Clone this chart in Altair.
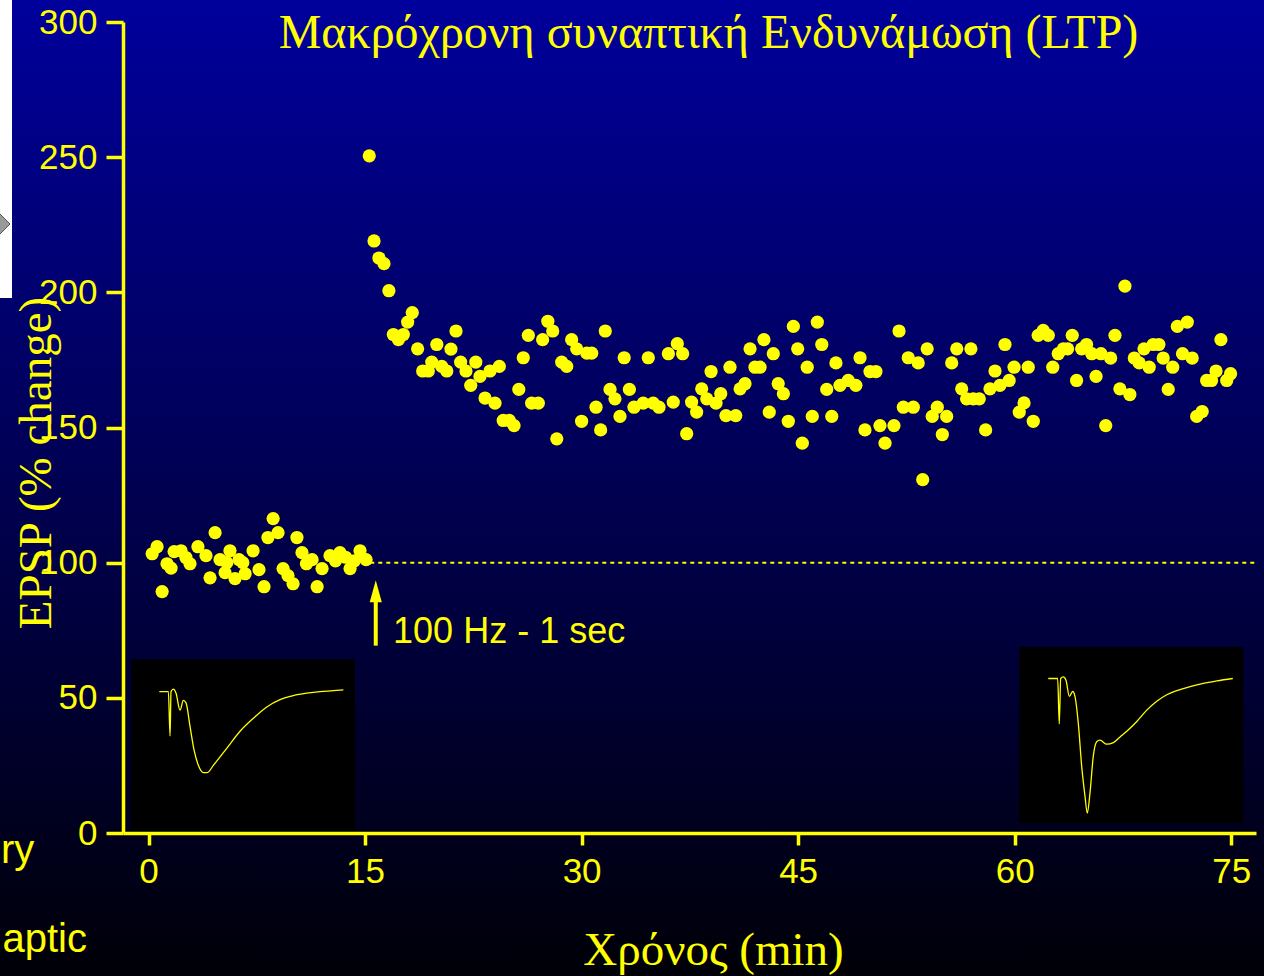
import altair as alt
import pandas as pd

# ---------------- data ----------------
# baseline period (minutes, EPSP % of baseline)
base_t = [0.25, 0.59, 0.94, 1.28, 1.56, 1.77, 2.25, 2.59, 2.87, 3.42,
          3.98, 4.26, 4.61, 4.95, 5.30, 5.42, 5.64, 5.99, 6.27, 6.53,
          6.69, 7.24, 7.65, 8.00, 8.27, 8.63, 8.97, 9.32, 9.66, 10.01,
          10.28, 10.63, 10.94, 11.33, 11.68, 12.02, 12.57, 12.95, 13.26, 13.65,
          13.96, 14.26, 14.65, 15.07]
base_v = [103.3, 105.9, 89.3, 99.6, 98.0, 104.1, 104.4, 101.9, 99.6, 105.9,
          102.6, 94.4, 111.1, 101.1, 96.3, 100.0, 104.4, 94.1, 101.1, 100.0,
          95.9, 104.4, 97.4, 91.1, 109.3, 116.3, 111.1, 97.8, 95.2, 92.2,
          109.3, 103.7, 99.6, 101.1, 91.1, 97.8, 102.6, 100.7, 103.7, 102.0,
          97.8, 100.7, 104.4, 101.1]

# after the tetanus
post_t = [15.29, 15.62, 15.96, 16.31, 16.65, 16.96, 17.31, 17.65, 17.95, 18.27,
          18.64, 18.99, 19.38, 19.62, 19.97, 20.31, 20.66, 20.95, 21.30, 21.62,
          21.99, 22.32, 22.67, 22.96, 23.31, 23.65, 24.00, 24.30, 24.57, 24.99,
          25.32, 25.65, 25.96, 26.31, 26.54, 27.00, 27.30, 27.66, 28.00, 28.28,
          28.62, 28.97, 29.31, 29.66, 30.00, 30.36, 30.70, 31.00, 31.32, 31.64,
          31.97, 32.31, 32.66, 32.95, 33.31, 33.63, 34.27, 34.62, 34.96, 35.36,
          36.01, 36.35, 36.63, 37.00, 37.28, 37.62, 37.97, 38.32, 38.67, 38.97,
          39.31, 39.64, 40.00, 40.28, 40.68, 40.98, 41.32, 41.67, 42.01, 42.36,
          42.63, 43.00, 43.28, 43.62, 43.98, 44.32, 44.67, 44.97, 45.29, 45.63,
          45.98, 46.33, 46.64, 46.98, 47.33, 47.62, 47.90, 48.47, 49.00, 49.29,
          49.63, 49.98, 50.39, 50.67, 51.02, 51.64, 51.99, 52.29, 52.63, 52.98,
          53.32, 53.63, 53.94, 54.29, 54.64, 54.99, 55.29, 55.64, 55.99, 56.33,
          56.67, 56.97, 57.13, 57.55, 57.99, 58.29, 58.64, 58.98, 59.33, 59.62,
          59.96, 60.32, 60.65, 60.94, 61.29, 61.63, 61.98, 62.33, 62.64, 63.02,
          63.37, 63.67, 63.99, 64.29, 64.64, 64.98, 65.34, 65.64, 65.98, 66.31,
          66.65, 66.95, 67.29, 67.64, 67.98, 68.29, 68.63, 68.96, 69.32, 69.60,
          69.99, 70.29, 70.64, 70.95, 71.27, 71.63, 71.96, 72.30, 72.61, 72.99,
          73.30, 73.64, 73.95, 74.29, 74.69, 74.96]
post_v = [250.5, 219.0, 212.7, 210.6, 200.6, 184.4, 182.5, 184.4, 189.0, 192.5,
          179.1, 170.9, 170.9, 174.2, 180.7, 172.6, 170.9, 179.0, 185.7, 174.2,
          170.9, 165.6, 174.2, 168.9, 160.9, 170.9, 159.0, 172.6, 152.6, 152.6,
          150.7, 164.1, 175.8, 184.1, 159.0, 159.0, 182.5, 189.3, 185.7, 145.8,
          174.2, 172.6, 182.5, 179.1, 152.3, 177.5, 177.5, 157.5, 149.1, 185.7,
          164.1, 160.6, 154.1, 175.8, 164.1, 157.5, 159.0, 175.8, 159.0, 157.5,
          177.3, 159.4, 181.0, 177.3, 147.7, 159.4, 155.7, 164.3, 160.6, 170.7,
          159.0, 162.5, 154.4, 172.3, 154.4, 164.3, 166.2, 179.1, 172.3, 172.3,
          182.5, 155.7, 177.3, 166.2, 162.5, 152.3, 187.4, 179.1, 144.2, 172.3,
          154.1, 189.0, 180.7, 164.1, 154.1, 173.9, 165.6, 167.4, 165.6, 175.8,
          149.1, 170.7, 170.7, 150.7, 144.2, 150.7, 185.7, 157.5, 175.8, 157.5,
          173.9, 130.7, 179.1, 154.1, 157.5, 147.4, 154.1, 173.9, 179.1, 164.3,
          160.6, 179.1, 160.6, 160.6, 149.1, 164.3, 170.9, 165.6, 180.7, 167.4,
          172.3, 155.7, 159.1, 172.3, 152.3, 184.1, 185.9, 184.1, 172.3, 177.3,
          179.1, 179.1, 184.1, 167.4, 179.1, 180.7, 177.3, 168.9, 177.3, 150.7,
          175.7, 184.1, 164.3, 202.3, 162.2, 175.7, 173.9, 179.1, 172.3, 180.7,
          180.7, 175.7, 164.1, 172.3, 187.4, 177.3, 189.0, 175.7, 154.1, 155.9,
          167.4, 167.4, 170.9, 182.5, 167.4, 169.9]

# example EPSP traces (ms, mV)
pre_ms = [0, 1.96, 2.33, 2.54, 3.04, 3.63, 4.5, 5.22, 5.8, 6.67, 7.54, 8.48, 9.57,
          10.43, 11.74, 14.65, 17.54, 20.43, 23.35, 26.24, 29.13, 32.04, 34.93, 37.83, 40.0]
pre_mv = [0, 0, -0.55, 0, 0.03, -0.02, -0.23, -0.11, -0.14, -0.43, -0.72, -0.91, -1.0,
          -1.0, -0.91, -0.70, -0.49, -0.33, -0.19, -0.10, -0.05, -0.02, 0, 0.01, 0.02]
post_ms = [0, 2.04, 2.39, 2.70, 3.26, 3.85, 4.57, 5.3, 5.8, 6.52, 7.26, 7.98, 8.48, 9.07,
           9.78, 10.52, 11.24, 12.7, 14.15, 15.61, 17.07, 19.24, 21.41, 23.59, 25.76,
           27.93, 30.83, 33.72, 36.63, 40.11]
post_mv = [0, 0, -0.56, 0, 0.02, -0.02, -0.22, -0.16, -0.22, -0.55, -1.08, -1.45, -1.66,
           -1.41, -0.96, -0.78, -0.76, -0.81, -0.79, -0.72, -0.65, -0.53, -0.39, -0.28,
           -0.20, -0.15, -0.10, -0.06, -0.03, 0]

x_ticks = [0, 15, 30, 45, 60, 75]
y_ticks = [0, 50, 100, 150, 200, 250, 300]

title_text = "Μακρόχρονη συναπτική Ενδυνάμωση (LTP)"
x_title = "Χρόνος (min)"
y_title = "EPSP (% change)"
stim_text = "100 Hz - 1 sec"

# ---------------- layout ----------------
YELLOW = "#ffff00"
W, H = 1133, 811
PL, PT = 123, 22
CW, CH = 1264, 976

xs = alt.Scale(domain=[-1.77, 76.72], nice=False, zero=False)
ys = alt.Scale(domain=[0, 300], nice=False, zero=False)
X = alt.X("t:Q", scale=xs, title=None,
          axis=alt.Axis(values=x_ticks, tickSize=12, labelPadding=9, format="d", zindex=2))
Y = alt.Y("v:Q", scale=ys, title=None,
          axis=alt.Axis(values=y_ticks, tickSize=17, labelPadding=9, format="d", zindex=2))

one = pd.DataFrame({"a": [0]})

bg = alt.Chart(one).mark_rect(
    fill=alt.Gradient(gradient="linear",
                      stops=[alt.GradientStop(color="#00009c", offset=0),
                             alt.GradientStop(color="#00004a", offset=0.55),
                             alt.GradientStop(color="#000008", offset=1)],
                      x1=0, x2=0, y1=0, y2=1)
).encode(x=alt.value(-PL), x2=alt.value(CW - PL), y=alt.value(-PT), y2=alt.value(CH - PT))

white = alt.Chart(one).mark_rect(fill="white").encode(
    x=alt.value(-PL), x2=alt.value(-PL + 12), y=alt.value(-PT), y2=alt.value(276))
chev = alt.Chart(one).mark_point(shape="diamond", filled=True, fill="#9a9a9a",
                                 stroke="#555555", strokeWidth=1, size=2209, opacity=1).encode(
    x=alt.value(-PL - 13.5), y=alt.value(202))

insets = pd.DataFrame({"t": [-1.21, 60.32], "t2": [14.30, 75.84],
                       "v": [64.3, 68.8], "v2": [-0.5, 3.8]})
boxes = alt.Chart(insets).mark_rect(fill="black").encode(
    x=X, x2="t2:Q", y=Y, y2="v2:Q")

tr_pre = alt.Chart(pd.DataFrame({"ms": pre_ms, "mv": pre_mv})).transform_calculate(
    t="0.748 + datum.ms * 0.3187", v="52.33 + datum.mv * 30"
).mark_line(color=YELLOW, strokeWidth=1.3, interpolate="monotone").encode(x=X, y=Y, order="ms:Q")
tr_post = alt.Chart(pd.DataFrame({"ms": post_ms, "mv": post_mv})).transform_calculate(
    t="62.33 + datum.ms * 0.3187", v="57.15 + datum.mv * 30"
).mark_line(color=YELLOW, strokeWidth=1.3, interpolate="monotone").encode(x=X, y=Y, order="ms:Q")

ref = alt.Chart(pd.DataFrame({"t": [15.36], "t2": [76.8], "v": [100]})).mark_rule(
    color=YELLOW, strokeWidth=2, strokeDash=[4, 4]).encode(x=X, x2="t2:Q", y=Y)

pts = pd.DataFrame({"t": base_t + post_t, "v": base_v + post_v})
dots = alt.Chart(pts).mark_circle(color=YELLOW, opacity=1, size=175).encode(x=X, y=Y)

shaft = alt.Chart(pd.DataFrame({"t": [15.74], "v": [69.3], "v2": [86.0]})).mark_rule(
    color=YELLOW, strokeWidth=4).encode(x=X, y=Y, y2="v2:Q")
head = alt.Chart(pd.DataFrame({"t": [15.74], "v": [89.4]})).mark_point(
    shape="M0,-1L0.55,1L-0.55,1Z", filled=True, color=YELLOW, opacity=1, size=484
).encode(x=X, y=Y)
stim = alt.Chart(pd.DataFrame({"t": [16.94], "v": [70.3], "s": [stim_text]})).mark_text(
    color=YELLOW, font="Liberation Sans", fontSize=36, align="left", baseline="alphabetic"
).encode(x=X, y=Y, text="s:N")

ttl = alt.Chart(one).mark_text(text=title_text, color=YELLOW, font="Liberation Serif",
                               fontSize=48, align="center", baseline="alphabetic").encode(
    x=alt.value(708.5 - PL), y=alt.value(48.3 - PT))
xt = alt.Chart(one).mark_text(text=x_title, color=YELLOW, font="Liberation Serif",
                              fontSize=47, align="center", baseline="alphabetic").encode(
    x=alt.value(713.5 - PL), y=alt.value(965 - PT))
yt = alt.Chart(one).mark_text(text=y_title, color=YELLOW, font="Liberation Serif",
                              fontSize=47, align="center", baseline="middle", angle=270).encode(
    x=alt.value(37 - PL), y=alt.value(463 - PT))
ry = alt.Chart(one).mark_text(text="ry", color=YELLOW, font="Liberation Sans",
                              fontSize=40, align="left", baseline="alphabetic").encode(
    x=alt.value(1 - PL), y=alt.value(863 - PT))
aptic = alt.Chart(one).mark_text(text="aptic", color=YELLOW, font="Liberation Sans",
                                 fontSize=40, align="right", baseline="alphabetic").encode(
    x=alt.value(87 - PL), y=alt.value(952 - PT))

chart = alt.layer(
    bg, white, chev, boxes, tr_pre, tr_post, ref, dots, shaft, head, stim,
    ttl, xt, yt, ry, aptic
).properties(
    width=W, height=H,
    autosize=alt.AutoSizeParams(type="none"),
    padding={"left": PL, "top": PT, "right": CW - PL - W, "bottom": CH - PT - H},
    background="#000008",
).configure_view(stroke=None).configure_axis(
    domainColor=YELLOW, domainWidth=3.5, tickColor=YELLOW, tickWidth=3.5,
    labelColor=YELLOW, labelFont="Liberation Sans", labelFontSize=35,
    grid=False, labelFlush=False, labelOverlap=False, labelBound=False,
)

chart.save("out.html", embed_options={"renderer": "svg", "actions": False})
